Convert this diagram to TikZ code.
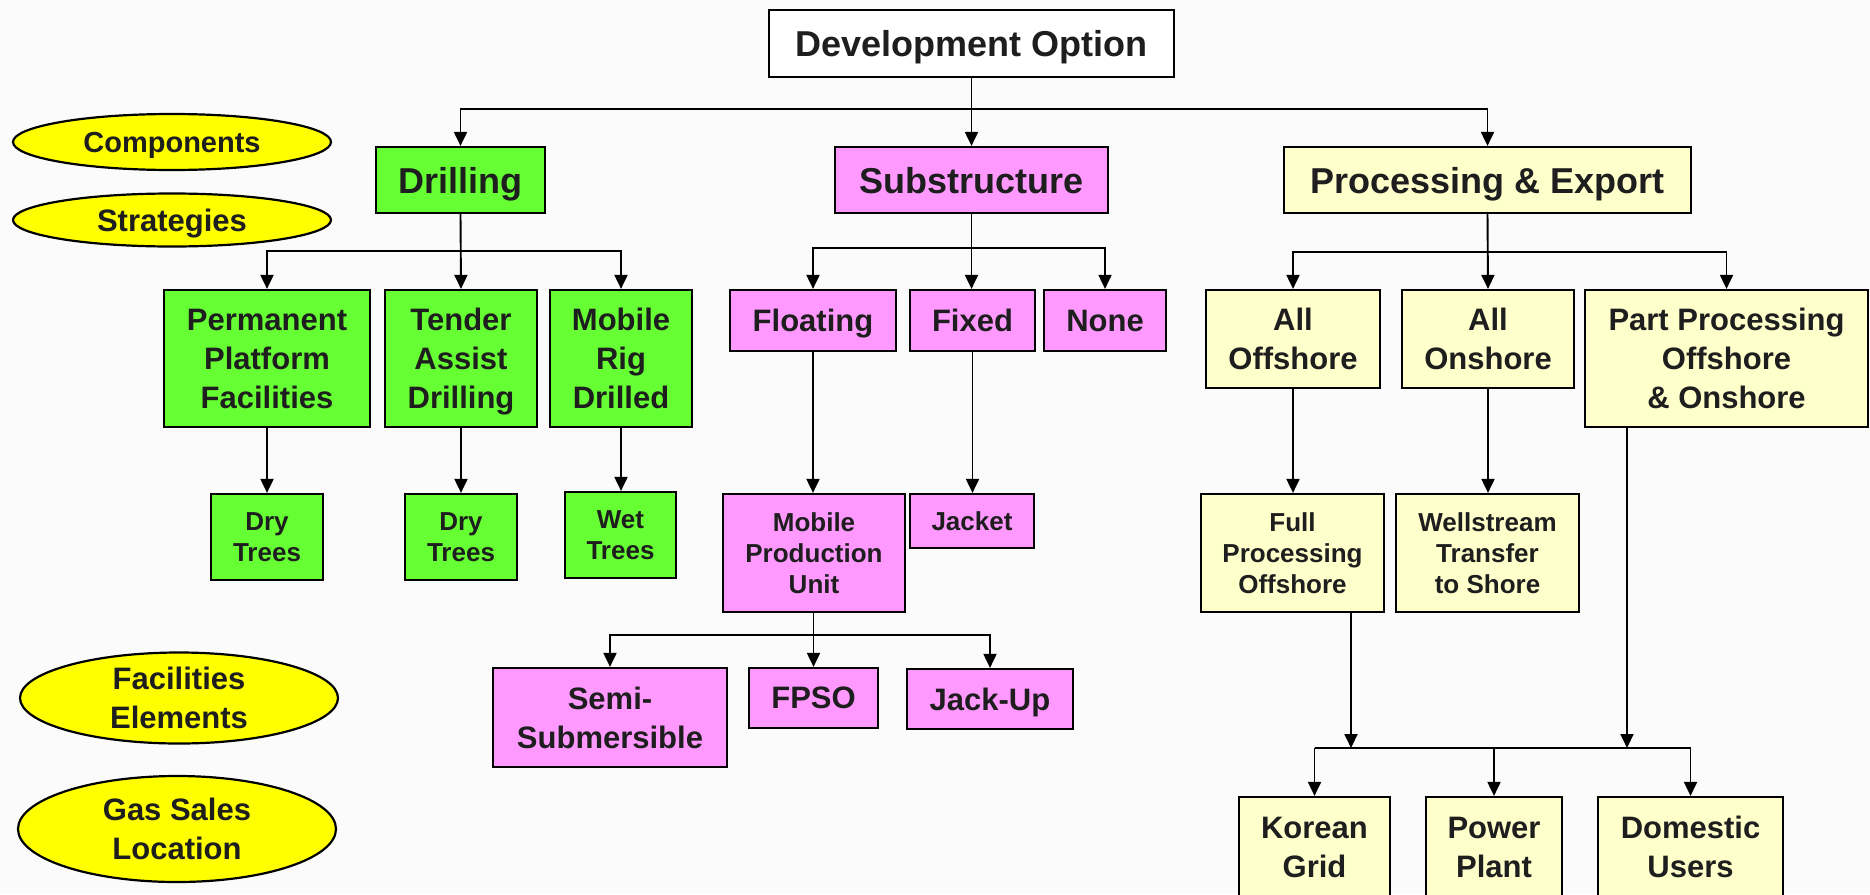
\documentclass[tikz,border=0pt]{standalone}
\usepackage{fontspec}
\setmainfont{Liberation Sans}
\usetikzlibrary{arrows.meta,shapes.geometric}
\definecolor{bg}{RGB}{251,251,251}
\definecolor{grn}{RGB}{102,255,51}
\definecolor{pnk}{RGB}{255,153,255}
\definecolor{lyel}{RGB}{255,255,204}
\definecolor{yel}{RGB}{255,255,0}
\definecolor{txt}{RGB}{30,30,30}
\tikzset{
  box/.style={draw=black, line width=2.2pt, inner sep=0pt, align=center, text=txt, font=\bfseries, text depth=0pt},
  big/.style={font=\bfseries\fontsize{36}{42}\selectfont},
  med/.style={font=\bfseries\fontsize{31}{39}\selectfont},
  sml/.style={font=\bfseries\fontsize{26}{31}\selectfont},
  gbox/.style={box, fill=grn},
  pbox/.style={box, fill=pnk},
  ybox/.style={box, fill=lyel},
  wbox/.style={box, fill=white},
  oval/.style={ellipse, draw=black, line width=2.2pt, fill=yel, inner sep=0pt, align=center, text=txt, text depth=0pt},
  arr/.style={line width=1.9pt, -{Triangle[length=14pt,width=13pt]}},
  ln/.style={line width=1.9pt}
}
\newcommand{\bx}[6]{\node[#1, minimum width=#4pt, minimum height=#5pt] (#2) at (#3) {#6};}
\begin{document}
\begin{tikzpicture}[x=1pt,y=-1pt]
\useasboundingbox (0,0) rectangle (1870,894);
\fill[bg] (0,0) rectangle (1870,894);
\clip (0,0) rectangle (1870,894);

% ellipses
\node[oval, med, minimum width=318pt, minimum height=56pt] (comp) at (172,142) {\fontsize{29}{36}\selectfont Components};
\node[oval, med, minimum width=318pt, minimum height=53pt] (strat) at (172,220) {Strategies};
\node[oval, med, minimum width=318pt, minimum height=91pt] (fac) at (179,698) {Facilities\\Elements};
\node[oval, med, minimum width=318pt, minimum height=106pt] (gas) at (177,829) {Gas Sales\\Location};

% level 0/1
\bx{wbox,big}{dev}{971.5,43.5}{405}{67}{Development Option}
\bx{gbox,big}{drill}{460.5,180}{169}{66}{Drilling}
\bx{pbox,big}{sub}{971.5,180}{273}{66}{Substructure}
\bx{ybox,big}{proc}{1487.5,180}{407}{66}{Processing \& Export}

% level 2
\bx{gbox,med}{perm}{267,358.5}{206}{137}{Permanent\\Platform\\Facilities}
\bx{gbox,med}{tender}{461,358.5}{152}{137}{Tender\\Assist\\Drilling}
\bx{gbox,med}{mobile}{621,358.5}{142}{137}{Mobile\\Rig\\Drilled}
\bx{pbox,med}{floating}{813,320.5}{166}{61}{Floating}
\bx{pbox,med}{fixed}{972.5,320.5}{125}{61}{Fixed}
\bx{pbox,med}{none}{1105,320.5}{122}{61}{None}
\bx{ybox,med}{alloff}{1293,339}{174}{98}{All\\Offshore}
\bx{ybox,med}{allon}{1488,339}{172}{98}{All\\Onshore}
\bx{ybox,med}{part}{1726.5,358.5}{283}{137}{Part Processing\\Offshore\\\& Onshore}

% level 3
\bx{gbox,sml}{dry1}{267,537}{112}{86}{Dry\\Trees}
\bx{gbox,sml}{dry2}{461,537}{112}{86}{Dry\\Trees}
\bx{gbox,sml}{wet}{620.5,535}{111}{86}{Wet\\Trees}
\bx{pbox,sml}{mpu}{814,553}{182}{118}{Mobile\\Production\\Unit}
\bx{pbox,sml}{jacket}{972,521}{124}{54}{Jacket}
\bx{ybox,sml}{fullproc}{1292.5,553}{183}{118}{Full\\Processing\\Offshore}
\bx{ybox,sml}{well}{1487.5,553}{183}{118}{Wellstream\\Transfer\\to Shore}

% level 4
\bx{pbox,med}{semi}{610,717.5}{234}{99}{Semi-\\Submersible}
\bx{pbox,med}{fpso}{813.5,698}{129}{60}{FPSO}
\bx{pbox,med}{jackup}{990,699}{166}{60}{Jack-Up}
\bx{ybox,med}{korean}{1314.5,847}{151}{100}{Korean\\Grid}
\bx{ybox,med}{power}{1494,847}{136}{100}{Power\\Plant}
\bx{ybox,med}{domestic}{1690.5,847}{185}{100}{Domestic\\Users}

% connectors: top level
\draw[arr] (dev.south) -- (sub.north);
\draw[arr] (dev.south) ++(0,31) -| (drill.north);
\draw[arr] (dev.south) ++(0,31) -| (proc.north);

% drilling
\draw[arr] (drill.south) -- (tender.north);
\draw[arr] (drill.south) ++(0,37) -| (perm.north);
\draw[arr] (drill.south) ++(0,37) -| (mobile.north);
\draw[arr] (perm.south) -- (dry1.north);
\draw[arr] (tender.south) -- (dry2.north);
\draw[arr] (mobile.south) -- (wet.north -| mobile.south);

% substructure
\draw[arr] (sub.south) -- (fixed.north -| sub.south);
\draw[arr] (sub.south) ++(0,34) -| (floating.north);
\draw[arr] (sub.south) ++(0,34) -| (none.north);
\draw[arr] (floating.south) -- (mpu.north -| floating.south);
\draw[arr] (fixed.south) -- (jacket.north -| fixed.south);
\draw[arr] (mpu.south -| fpso.north) -- (fpso.north);
\draw[arr] (mpu.south -| fpso.north) ++(0,22) -| (semi.north);
\draw[arr] (mpu.south -| fpso.north) ++(0,22) -| (jackup.north);

% processing
\draw[arr] (proc.south) -- (allon.north);
\draw[arr] (proc.south) ++(0,38) -| (alloff.north);
\draw[arr] (proc.south) ++(0,38) -| (part.north);
\draw[arr] (alloff.south) -- (fullproc.north -| alloff.south);
\draw[arr] (allon.south) -- (well.north -| allon.south);

% gas sales
\coordinate (b1) at (1351,748);
\coordinate (b2) at (1627,748);
\coordinate (bb) at (1494,748);
\draw[arr] (fullproc.south -| b1) -- (b1);
\draw[arr] (part.south -| b2) -- (b2);
\draw[ln] (korean.north |- bb) -- (domestic.north |- bb);
\draw[arr] (bb) -- (power.north);
\draw[arr] (korean.north |- bb) -- (korean.north);
\draw[arr] (domestic.north |- bb) -- (domestic.north);
\end{tikzpicture}
\end{document}
